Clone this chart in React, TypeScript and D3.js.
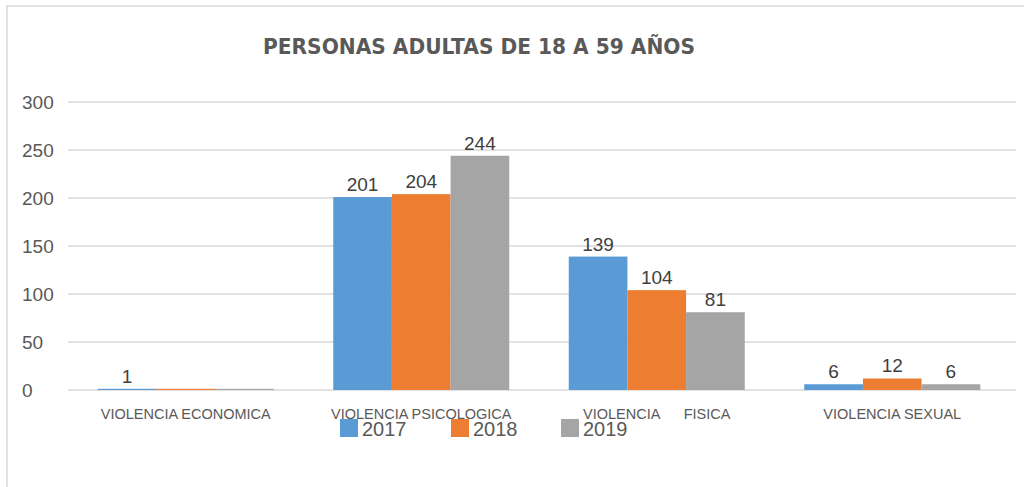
import React from "react";
import * as d3 from "d3";

const categories = ["VIOLENCIA ECONOMICA", "VIOLENCIA PSICOLOGICA", "VIOLENCIA      FISICA", "VIOLENCIA SEXUAL"];
const seriesNames = ["2017", "2018", "2019"];
const values2017 = [1, 201, 139, 6];
const values2018 = [0, 204, 104, 12];
const values2019 = [0, 244, 81, 6];
const yTicks = [0, 50, 100, 150, 200, 250, 300];
const colors = ["#5b9bd5", "#ed7d31", "#a5a5a5"];
const title = "PERSONAS ADULTAS DE 18 A 59 AÑOS";

const W = 1024;
const H = 487;

export default function App() {
  const series = [values2017, values2018, values2019];
  const x = d3.scaleBand<string>().domain(categories).range([68, 1010]).paddingInner(0.2526).paddingOuter(0.1263);
  const xi = d3.scaleBand<string>().domain(seriesNames).range([0, x.bandwidth()]);
  const y = d3.scaleLinear().domain([0, 300]).range([390, 102]);
  const font = "'Liberation Sans', Arial, sans-serif";

  const legendX = [340, 451, 561];

  return (
    <svg width={W} height={H} style={{ position: "absolute", left: 0, top: 0, background: "#fff" }}>
      <rect x={7} y={6} width={1100} height={600} fill="#fff" stroke="#d9d9d9" strokeWidth={1.5} />
      <text x={479} y={54} textAnchor="middle" fontFamily="'DejaVu Sans', Verdana, sans-serif" fontWeight="bold" fontSize={21} fill="#595959" textLength={432} lengthAdjust="spacingAndGlyphs">
        {title}
      </text>
      {yTicks.map((t) => (
        <g key={t}>
          <line x1={68} x2={1016} y1={y(t)} y2={y(t)} stroke="#d9d9d9" strokeWidth={1.5} />
          <text x={22} y={y(t) + 7} fontFamily={font} fontSize={19} fill="#595959">
            {t}
          </text>
        </g>
      ))}
      {categories.map((c, ci) => (
        <g key={c} transform={`translate(${x(c)},0)`}>
          {series.map((vals, si) => {
            const v = vals[ci];
            const top = y(v);
            const h = Math.max(y(0) - top, 1.2);
            return (
              <g key={si}>
                <rect x={xi(seriesNames[si])} y={y(0) - h} width={xi.bandwidth()} height={h} fill={colors[si]} />
                {v > 0 && (
                  <text x={(xi(seriesNames[si]) as number) + xi.bandwidth() / 2} y={top - 6} textAnchor="middle" fontFamily={font} fontSize={19} fill="#404040">
                    {v}
                  </text>
                )}
              </g>
            );
          })}
          <text x={x.bandwidth() / 2} y={419} textAnchor="middle" fontFamily={font} fontSize={14.5} fill="#595959" style={{ whiteSpace: "pre" }} xmlSpace="preserve">
            {c}
          </text>
        </g>
      ))}
      {seriesNames.map((s, i) => (
        <g key={s}>
          <rect x={legendX[i]} y={419} width={18} height={18} fill={colors[i]} />
          <text x={legendX[i] + 22} y={436} fontFamily={font} fontSize={20} fill="#595959">
            {s}
          </text>
        </g>
      ))}
    </svg>
  );
}
